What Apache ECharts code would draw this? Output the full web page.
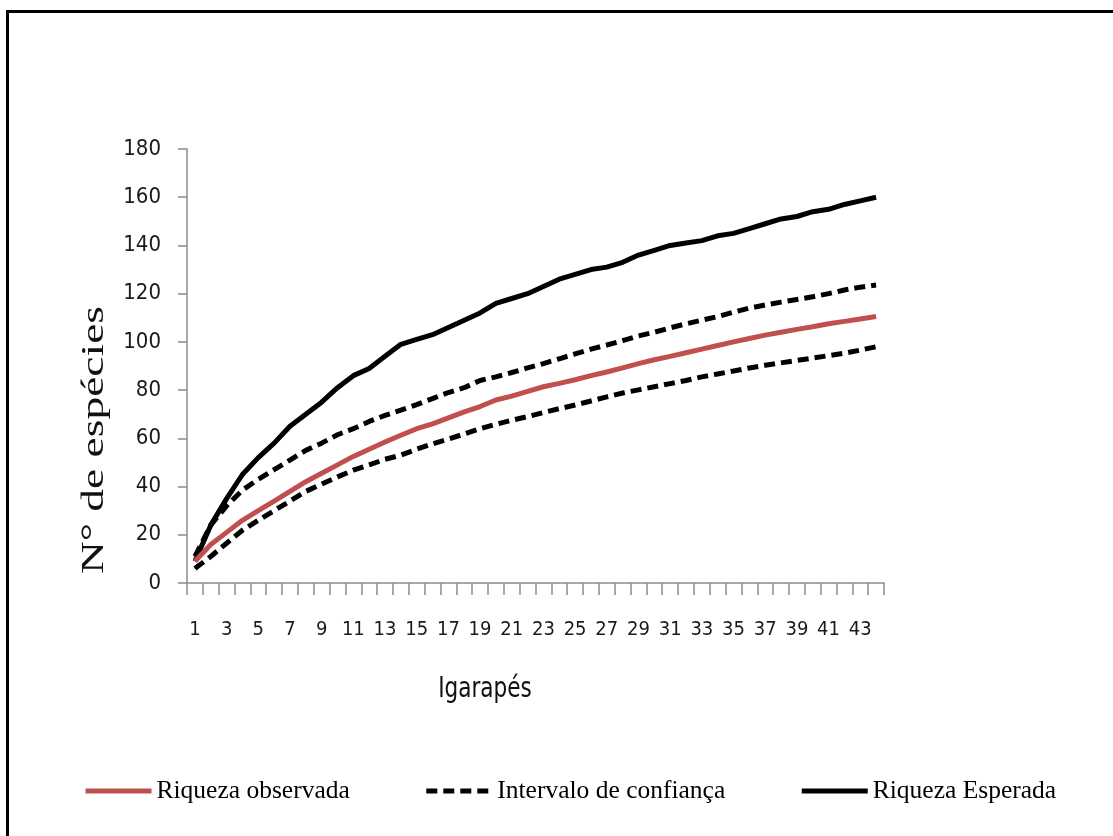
<!DOCTYPE html>
<html>
<head>
<meta charset="utf-8">
<script src="https://cdn.jsdelivr.net/npm/echarts@6/dist/echarts.min.js"></script>
<style>
html,body{margin:0;padding:0;background:#fff;}
#chart{width:1113px;height:836px;}
</style>
</head>
<body>
<div id="chart"></div>
<script>
// ---- data ----
var categories = [];
for (var i = 1; i <= 44; i++) categories.push(String(i));

var riquezaObservada = [9, 16, 21, 26, 30, 34, 38, 42, 45.5, 49, 52.5, 55.5, 58.5, 61.3, 64, 66, 68.5, 71, 73.2, 75.9, 77.5, 79.5, 81.4, 82.8, 84.3, 86, 87.5, 89.2, 91, 92.6, 94, 95.5, 97, 98.5, 100, 101.4, 102.8, 104, 105.2, 106.3, 107.5, 108.5, 109.5, 110.5];

var icSuperior = [11, 24, 32, 38.5, 43, 47, 51, 55, 58, 61.5, 64, 67, 69.5, 71.7, 74, 76.5, 79, 81, 84, 85.5, 87.3, 89.2, 91, 93, 95, 97, 98.7, 100.5, 102.5, 104, 105.8, 107.5, 109, 110.5, 112.3, 114, 115.3, 116.5, 117.6, 118.7, 120, 121.5, 122.7, 123.6];

var icInferior = [6, 11, 16.5, 21.9, 26, 30, 34, 38, 41, 44, 46.8, 49, 51.3, 53, 55.5, 57.7, 59.7, 61.8, 64, 65.8, 67.5, 69, 70.7, 72.3, 73.8, 75.5, 77.2, 78.8, 80.1, 81.4, 82.7, 84, 85.5, 86.7, 87.9, 89.2, 90.3, 91.3, 92.3, 93.3, 94.3, 95.3, 96.6, 98];

var riquezaEsperada = [9, 24, 35, 45, 52, 58, 65, 70, 75, 81, 86, 89, 94, 99, 101, 103, 106, 109, 112, 116, 118, 120, 123, 126, 128, 130, 131, 133, 136, 138, 140, 141, 142, 144, 145, 147, 149, 151, 152, 154, 155, 157, 158.5, 160];

var yTicks = {min: 0, max: 180, interval: 20};
var xTitle = 'Igarapés';
var yTitle = 'N° de espécies';
var names = ['Riqueza observada', 'Intervalo de confiança', 'Riqueza Esperada'];

// ---- chart ----
var chart = echarts.init(document.getElementById('chart'), null, {renderer: 'canvas'});
var narrow = "'DejaVu Sans Condensed', 'Liberation Sans', sans-serif";
var serif = "'Liberation Serif', 'DejaVu Serif', serif";
var dash = [11, 6];

var option = {
  backgroundColor: '#ffffff',
  animation: false,
  grid: {left: 187, right: 229, top: 149, bottom: 253, containLabel: false},
  legend: {
    left: 78, top: 773,
    itemWidth: 66, itemHeight: 14, itemGap: 74,
    itemStyle: {opacity: 0},
    lineStyle: {width: 5},
    textStyle: {fontFamily: serif, fontSize: 25.5, color: '#000'},
    data: names
  },
  xAxis: {
    type: 'category',
    data: categories,
    boundaryGap: true,
    axisLine: {lineStyle: {color: '#8c8c8c', width: 1.5}},
    axisTick: {show: true, interval: 0, length: 12, lineStyle: {color: '#8c8c8c', width: 1.5}},
    axisLabel: {interval: 1, margin: 37, fontFamily: narrow, fontSize: 20, color: '#1a1a1a'},
    splitLine: {show: false}
  },
  yAxis: {
    type: 'value',
    min: yTicks.min, max: yTicks.max, interval: yTicks.interval,
    axisLine: {show: true, lineStyle: {color: '#8c8c8c', width: 1.5}},
    axisTick: {show: true, length: 9, lineStyle: {color: '#8c8c8c', width: 1.5}},
    axisLabel: {margin: 26, fontFamily: narrow, fontSize: 22, color: '#1a1a1a'},
    splitLine: {show: false}
  },
  graphic: [
    {type: 'rect', left: 5, top: 9, silent: true, z: -1,
     shape: {x: 0, y: 0, width: 1140, height: 860},
     style: {fill: 'none', stroke: '#000', lineWidth: 3}},
    {type: 'text', x: 485, y: 690, scaleY: 1.2, silent: true,
     style: {text: xTitle, fontFamily: narrow, fontSize: 24, fill: '#111', align: 'center', verticalAlign: 'middle'}},
    {type: 'text', x: 95, y: 440, rotation: Math.PI / 2, scaleX: 1.42, silent: true,
     style: {text: yTitle, fontFamily: serif, fontSize: 32, fill: '#111', align: 'center', verticalAlign: 'middle'}}
  ],
  series: [
    {name: names[0], type: 'line', data: riquezaObservada, symbol: 'none', smooth: false, z: 3,
     lineStyle: {color: '#c0504d', width: 5}, itemStyle: {color: '#c0504d'}},
    {name: names[1], type: 'line', data: icSuperior, symbol: 'none', smooth: false, z: 2,
     lineStyle: {color: '#000', width: 5, type: dash}, itemStyle: {color: '#000'}},
    {name: names[1], type: 'line', data: icInferior, symbol: 'none', smooth: false, z: 2,
     lineStyle: {color: '#000', width: 5, type: dash}, itemStyle: {color: '#000'}},
    {name: names[2], type: 'line', data: riquezaEsperada, symbol: 'none', smooth: false, z: 2,
     lineStyle: {color: '#000', width: 5}, itemStyle: {color: '#000'}}
  ]
};
chart.setOption(option);
</script>
</body>
</html>
